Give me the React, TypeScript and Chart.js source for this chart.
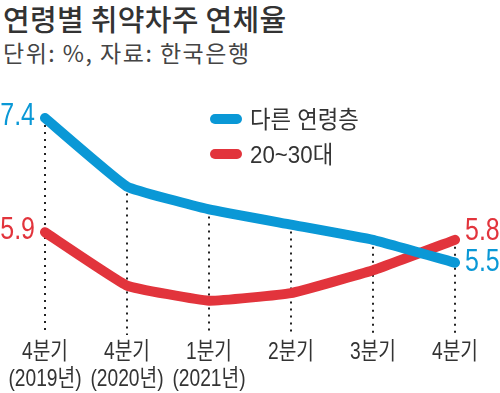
import React, { useEffect, useRef } from 'react';
import { Chart, registerables } from 'chart.js';

Chart.register(...registerables);

const categories: string[][] = [
  ['4분기', '(2019년)'],
  ['4분기', '(2020년)'],
  ['1분기', '(2021년)'],
  ['2분기'],
  ['3분기'],
  ['4분기'],
];
const seriesNames = ['다른 연령층', '20~30대'];
const otherAges = [7.4, 6.5, 6.2, 6.0, 5.8, 5.5];
const twenties = [5.9, 5.2, 5.0, 5.1, 5.4, 5.8];

const BLUE = '#0a98d6';
const RED = '#e2343c';
const TEXT = '#333333';
const NUMFONT = '"Liberation Sans", "Noto Sans CJK KR", sans-serif';
const KR = '"Noto Sans CJK KR", sans-serif';

function condensedText(ctx: any, text: string, x: number, y: number, sx: number) {
  ctx.save();
  ctx.translate(x, y);
  ctx.scale(sx, 1);
  ctx.fillText(text, 0, 0);
  ctx.restore();
}

const dottedPlugin = {
  id: 'dotted',
  beforeDatasetsDraw(chart: any) {
    const { ctx, chartArea } = chart;
    const xs = chart.scales.x;
    const ys = chart.scales.y;
    const n = chart.data.labels.length;
    ctx.save();
    ctx.setLineDash([2, 5]);
    ctx.lineWidth = 2;
    ctx.strokeStyle = '#222';
    for (let i = 0; i < n; i++) {
      const px = Math.round(xs.getPixelForValue(i));
      let top = Infinity;
      chart.data.datasets.forEach((ds: any) => {
        top = Math.min(top, ys.getPixelForValue(ds.data[i]));
      });
      ctx.beginPath();
      ctx.moveTo(px, top);
      ctx.lineTo(px, chartArea.bottom);
      ctx.stroke();
    }
    ctx.restore();
  },
};

const tickLabelPlugin = {
  id: 'tickLabels',
  afterDraw(chart: any) {
    const { ctx, chartArea } = chart;
    const xs = chart.scales.x;
    ctx.save();
    ctx.fillStyle = TEXT;
    ctx.font = `24px ${NUMFONT}`;
    ctx.textAlign = 'center';
    ctx.textBaseline = 'middle';
    (chart.data.labels as string[][]).forEach((lines, i) => {
      const px = xs.getPixelForValue(i);
      lines.forEach((t, j) => {
        condensedText(ctx, t, px, chartArea.bottom + 17 + j * 27, 0.8);
      });
    });
    ctx.restore();
  },
};

const valueLabelPlugin = {
  id: 'valueLabels',
  afterDatasetsDraw(chart: any) {
    const { ctx } = chart;
    const xs = chart.scales.x;
    const ys = chart.scales.y;
    const n = chart.data.labels.length;
    const sx = 0.78;
    ctx.save();
    ctx.font = `32px ${NUMFONT}`;
    ctx.textBaseline = 'middle';
    const x0 = xs.getPixelForValue(0);
    chart.data.datasets.forEach((ds: any) => {
      ctx.fillStyle = ds.borderColor;
      ctx.textAlign = 'right';
      condensedText(ctx, ds.data[0].toFixed(1), x0 - 10, ys.getPixelForValue(ds.data[0]) - 2, sx);
    });
    const xl = xs.getPixelForValue(n - 1);
    const items = chart.data.datasets.map((ds: any) => ({
      ds,
      y: ys.getPixelForValue(ds.data[n - 1]),
    }));
    items.sort((a: any, b: any) => a.y - b.y);
    for (let k = items.length - 2; k >= 0; k--) {
      if (items[k + 1].y - items[k].y < 31) items[k].y = items[k + 1].y - 31;
    }
    items.forEach((it: any) => {
      ctx.fillStyle = it.ds.borderColor;
      ctx.textAlign = 'left';
      condensedText(ctx, it.ds.data[n - 1].toFixed(1), xl + 10, it.y - 1, sx);
    });
    ctx.restore();
  },
};

const legendPlugin = {
  id: 'customLegend',
  afterDraw(chart: any) {
    const { ctx } = chart;
    ctx.save();
    chart.data.datasets.forEach((ds: any, i: number) => {
      const y = 119 + i * 35;
      ctx.strokeStyle = ds.borderColor;
      ctx.lineWidth = 10;
      ctx.lineCap = 'round';
      ctx.beginPath();
      ctx.moveTo(215, y);
      ctx.lineTo(237, y);
      ctx.stroke();
      ctx.fillStyle = TEXT;
      ctx.font = `24px ${NUMFONT}`;
      ctx.textAlign = 'left';
      ctx.textBaseline = 'middle';
      condensedText(ctx, ds.label, 250, y + 2, 0.93);
    });
    ctx.restore();
  },
};

export default function App() {
  const ref = useRef<HTMLCanvasElement | null>(null);

  useEffect(() => {
    if (!ref.current) return;
    const chart = new Chart(ref.current, {
      type: 'line',
      data: {
        labels: categories,
        datasets: [
          {
            label: seriesNames[0],
            data: otherAges,
            borderColor: BLUE,
            backgroundColor: BLUE,
            borderWidth: 10,
            borderCapStyle: 'round',
            borderJoinStyle: 'round',
            pointRadius: 0,
            tension: 0.1,
          },
          {
            label: seriesNames[1],
            data: twenties,
            borderColor: RED,
            backgroundColor: RED,
            borderWidth: 10,
            borderCapStyle: 'round',
            borderJoinStyle: 'round',
            pointRadius: 0,
            tension: 0.1,
          },
        ],
      },
      options: {
        responsive: false,
        animation: false,
        layout: { padding: { left: 45, right: 45, top: 99, bottom: 58 } },
        plugins: {
          legend: { display: false },
          tooltip: { enabled: false },
          title: { display: false },
        },
        scales: {
          x: {
            display: false,
            offset: false,
          },
          y: {
            display: false,
            min: 4.55,
            max: 7.65,
          },
        },
      },
      plugins: [dottedPlugin, valueLabelPlugin, legendPlugin, tickLabelPlugin],
    });
    return () => chart.destroy();
  }, []);

  return (
    <div style={{ position: 'absolute', left: 0, top: 0, width: 500, height: 393, background: '#fff' }}>
      <div
        style={{
          position: 'absolute',
          left: 3,
          top: 0,
          fontFamily: KR,
          fontSize: 29,
          fontWeight: 500,
          color: TEXT,
          lineHeight: '36px',
          letterSpacing: '0.3px',
          whiteSpace: 'nowrap',
        }}
      >
        연령별 취약차주 연체율
      </div>
      <div
        style={{
          position: 'absolute',
          left: 3,
          top: 37,
          fontFamily: KR,
          fontSize: 23,
          fontWeight: 400,
          color: '#444',
          lineHeight: '30px',
          letterSpacing: '1.5px',
          whiteSpace: 'nowrap',
        }}
      >
        단위: %, 자료: 한국은행
      </div>
      <canvas ref={ref} width={500} height={393} style={{ position: 'absolute', left: 0, top: 0 }} />
    </div>
  );
}
